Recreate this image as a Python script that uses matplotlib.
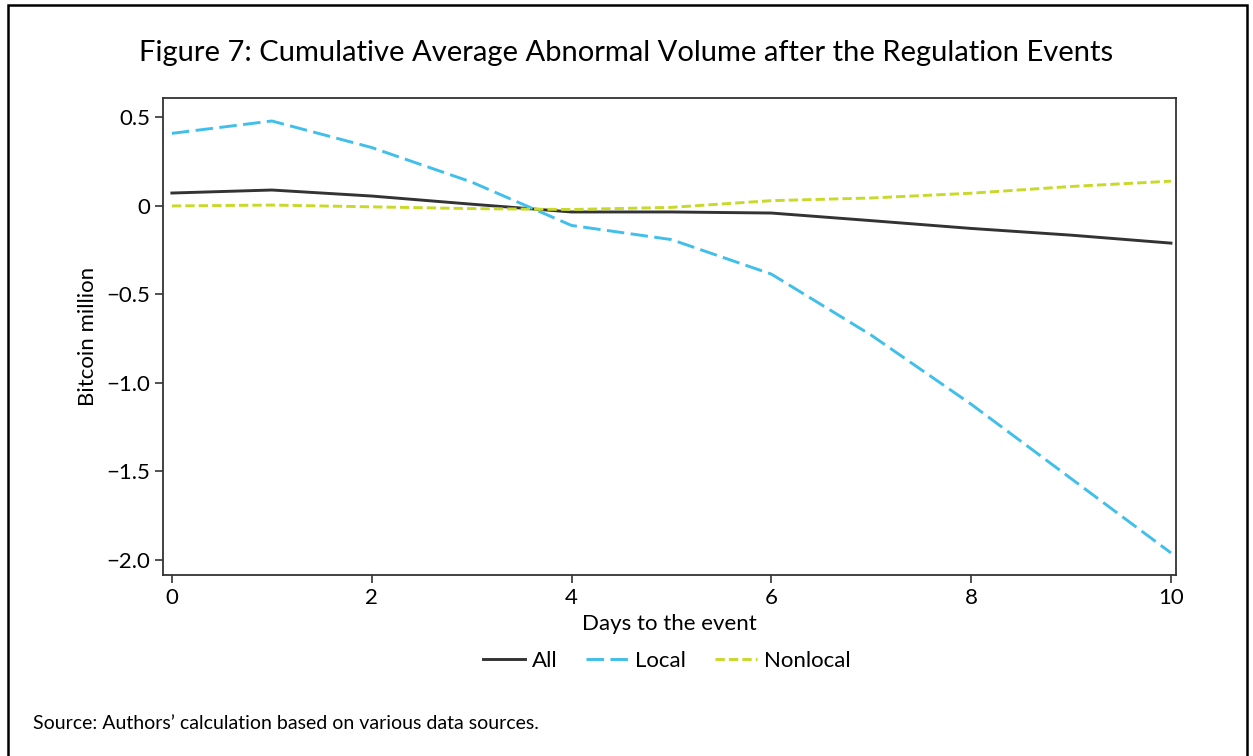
#!/usr/bin/env python3
import matplotlib
matplotlib.use("Agg")
import matplotlib.pyplot as plt
from matplotlib.patches import Rectangle
from matplotlib.ticker import FixedLocator, FixedFormatter

# Days after the event and cumulative average abnormal volume (Bitcoin million)
days = [0, 1, 2, 3, 4, 5, 6, 7, 8, 9, 10]
all_vol = [0.073, 0.090, 0.056, 0.010, -0.034, -0.034, -0.040, -0.083, -0.127, -0.165, -0.210]
local_vol = [0.41, 0.48, 0.33, 0.135, -0.11, -0.19, -0.385, -0.73, -1.12, -1.54, -1.96]
nonlocal_vol = [0.0, 0.005, -0.005, -0.015, -0.02, -0.008, 0.03, 0.045, 0.072, 0.11, 0.14]

yticks = [0.5, 0, -0.5, -1.0, -1.5, -2.0]
ytick_labels = ["0.5", "0", "\u22120.5", "\u22121.0", "\u22121.5", "\u22122.0"]
xticks = [0, 2, 4, 6, 8, 10]

plt.rcParams["font.family"] = ["Lato", "DejaVu Sans"]

fig = plt.figure(figsize=(12.53, 7.56), dpi=100)
ax = fig.add_axes([0.130, 0.2394, 0.8085, 0.631])

ax.plot(days, all_vol, color="#333333", lw=2.1, label="All")
ax.plot(days, local_vol, color="#40bfea", lw=2.1, dashes=(6, 2.2), label="Local")
ax.plot(days, nonlocal_vol, color="#c9d92a", lw=2.1, dashes=(3.2, 1.4), label="Nonlocal")

ax.set_xlim(-0.09, 10.05)
ax.set_ylim(-2.085, 0.61)
ax.xaxis.set_major_locator(FixedLocator(xticks))
ax.yaxis.set_major_locator(FixedLocator(yticks))
ax.yaxis.set_major_formatter(FixedFormatter(ytick_labels))
ax.tick_params(labelsize=16, length=6, width=1.2, color="#333333", pad=3)
for s in ax.spines.values():
    s.set_color("#333333")
    s.set_linewidth(1.3)

ax.set_xlabel("Days to the event", fontsize=16, labelpad=5)
ax.set_ylabel("Bitcoin million", fontsize=16, labelpad=6)

leg = fig.legend(loc="center", bbox_to_anchor=(0.532, 0.126), ncol=3, frameon=False,
                 fontsize=16, handlelength=1.9, columnspacing=1.3, handletextpad=0.3)

fig.text(0.5, 0.93, "Figure 7: Cumulative Average Abnormal Volume after the Regulation Events",
         ha="center", va="center", fontsize=21)
fig.text(0.026, 0.043, "Source: Authors\u2019 calculation based on various data sources.",
         ha="left", va="center", fontsize=14)

fig.patches.append(Rectangle((0.0065, -0.05), 0.9885, 1.043, transform=fig.transFigure,
                             fill=False, edgecolor="black", lw=1.8))

fig.savefig("out.png", dpi=100)
